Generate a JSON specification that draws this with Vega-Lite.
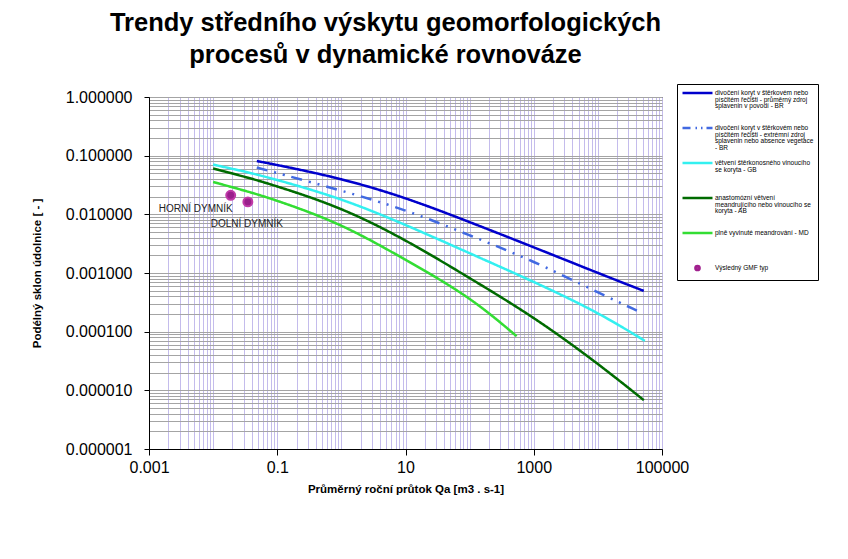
{
  "$schema": "https://vega.github.io/schema/vega-lite/v6.json",
  "autosize": {"type": "none"},
  "padding": {"left": 149, "top": 97, "right": 186, "bottom": 110},
  "width": 513,
  "height": 352,
  "background": "white",
  "title": {
    "text": ["Trendy středního výskytu geomorfologických", "procesů v dynamické rovnováze"],
    "font": "Liberation Sans",
    "fontSize": 25.5,
    "fontWeight": "bold",
    "color": "#000",
    "lineHeight": 32,
    "anchor": "middle",
    "dx": -20,
    "offset": 15
  },
  "config": {
    "view": {"stroke": "#000", "strokeWidth": 1},
    "font": "Liberation Sans"
  },
  "datasets": {
    "curves": [
      {"series": "BR1", "q": 0.048, "s": 0.081},
      {"series": "BR1", "q": 0.1, "s": 0.0695},
      {"series": "BR1", "q": 1, "s": 0.041},
      {"series": "BR1", "q": 10, "s": 0.0194},
      {"series": "BR1", "q": 100, "s": 0.0074},
      {"series": "BR1", "q": 1000, "s": 0.00275},
      {"series": "BR1", "q": 10000, "s": 0.001},
      {"series": "BR1", "q": 52000, "s": 0.000495},
      {"series": "BR2", "q": 0.048, "s": 0.0627},
      {"series": "BR2", "q": 0.1, "s": 0.0506},
      {"series": "BR2", "q": 1, "s": 0.0255},
      {"series": "BR2", "q": 10, "s": 0.0121},
      {"series": "BR2", "q": 100, "s": 0.00439},
      {"series": "BR2", "q": 1000, "s": 0.0016},
      {"series": "BR2", "q": 10000, "s": 0.000465},
      {"series": "BR2", "q": 45000, "s": 0.000217},
      {"series": "GB", "q": 0.01, "s": 0.0705},
      {"series": "GB", "q": 0.037, "s": 0.0515},
      {"series": "GB", "q": 0.1, "s": 0.0387},
      {"series": "GB", "q": 1, "s": 0.0187},
      {"series": "GB", "q": 10, "s": 0.00668},
      {"series": "GB", "q": 100, "s": 0.00217},
      {"series": "GB", "q": 1000, "s": 0.000713},
      {"series": "GB", "q": 10000, "s": 0.000215},
      {"series": "GB", "q": 54000, "s": 0.0000697},
      {"series": "AB", "q": 0.01, "s": 0.0603},
      {"series": "AB", "q": 0.037, "s": 0.0417},
      {"series": "AB", "q": 0.1, "s": 0.0301},
      {"series": "AB", "q": 1, "s": 0.0131},
      {"series": "AB", "q": 10, "s": 0.00372},
      {"series": "AB", "q": 100, "s": 0.00082},
      {"series": "AB", "q": 1000, "s": 0.000179},
      {"series": "AB", "q": 10000, "s": 0.0000288},
      {"series": "AB", "q": 52000, "s": 0.0000068},
      {"series": "MD", "q": 0.01, "s": 0.0356},
      {"series": "MD", "q": 0.037, "s": 0.0241},
      {"series": "MD", "q": 0.1, "s": 0.0172},
      {"series": "MD", "q": 1, "s": 0.00695},
      {"series": "MD", "q": 10, "s": 0.00169},
      {"series": "MD", "q": 100, "s": 0.000397},
      {"series": "MD", "q": 540, "s": 0.0000838}
    ],
    "sites": [
      {"name": "HORNÍ DYMNÍK", "q": 0.0188, "s": 0.0211},
      {"name": "DOLNÍ DYMNÍK", "q": 0.0348, "s": 0.0163}
    ]
  },
  "layer": [
    {
      "data": {"name": "curves"},
      "mark": {"type": "line", "strokeWidth": 2.5, "interpolate": "basis", "clip": true},
      "encoding": {
        "x": {
          "field": "q",
          "type": "quantitative",
          "scale": {"type": "log", "domain": [0.001, 100000], "nice": false},
          "axis": {
            "title": "Průměrný roční průtok Qa [m3 . s-1]",
            "titleFont": "Liberation Sans",
            "titleFontSize": 11.5,
            "titleFontWeight": "bold",
            "titleColor": "#000",
            "titlePadding": 8,
            "values": [0.001, 0.002, 0.003, 0.004, 0.005, 0.006, 0.007, 0.008, 0.009,
                       0.01, 0.02, 0.03, 0.04, 0.05, 0.06, 0.07, 0.08, 0.09,
                       0.1, 0.2, 0.3, 0.4, 0.5, 0.6, 0.7, 0.8, 0.9,
                       1, 2, 3, 4, 5, 6, 7, 8, 9,
                       10, 20, 30, 40, 50, 60, 70, 80, 90,
                       100, 200, 300, 400, 500, 600, 700, 800, 900,
                       1000, 2000, 3000, 4000, 5000, 6000, 7000, 8000, 9000,
                       10000, 20000, 30000, 40000, 50000, 60000, 70000, 80000, 90000, 100000],
            "format": "~g",
            "labelExpr": "indexof([0.001, 0.1, 10, 1000, 100000], datum.value) >= 0 ? datum.label : ''",
            "labelOverlap": false,
            "labelFlush": false,
            "labelFont": "Liberation Sans",
            "labelFontSize": 16,
            "labelColor": "#000",
            "labelPadding": 4,
            "grid": true,
            "gridColor": "#c4bcec",
            "gridWidth": 1,
            "domainColor": "#000",
            "tickSize": 6,
            "tickColor": {"condition": {"test": "indexof([0.001, 0.1, 10, 1000, 100000], datum.value) >= 0", "value": "#000"}, "value": "transparent"}
          }
        },
        "y": {
          "field": "s",
          "type": "quantitative",
          "scale": {"type": "log", "domain": [0.000001, 1], "nice": false},
          "axis": {
            "title": "Podélný sklon údolnice [ - ]",
            "titleFont": "Liberation Sans",
            "titleFontSize": 11.5,
            "titleFontWeight": "bold",
            "titleColor": "#000",
            "titlePadding": 23,
            "values": [0.000001, 0.000002, 0.000003, 0.000004, 0.000005, 0.000006, 0.000007, 0.000008, 0.000009,
                       0.00001, 0.00002, 0.00003, 0.00004, 0.00005, 0.00006, 0.00007, 0.00008, 0.00009,
                       0.0001, 0.0002, 0.0003, 0.0004, 0.0005, 0.0006, 0.0007, 0.0008, 0.0009,
                       0.001, 0.002, 0.003, 0.004, 0.005, 0.006, 0.007, 0.008, 0.009,
                       0.01, 0.02, 0.03, 0.04, 0.05, 0.06, 0.07, 0.08, 0.09,
                       0.1, 0.2, 0.3, 0.4, 0.5, 0.6, 0.7, 0.8, 0.9, 1],
            "format": ".6f",
            "labelExpr": "indexof([0.000001, 0.00001, 0.0001, 0.001, 0.01, 0.1, 1], datum.value) >= 0 ? datum.label : ''",
            "labelOverlap": false,
            "labelFlush": false,
            "labelFont": "Liberation Sans",
            "labelFontSize": 16,
            "labelColor": "#000",
            "labelPadding": 12,
            "grid": true,
            "gridColor": "#a4a4a4",
            "gridWidth": 1,
            "domainColor": "#000",
            "tickSize": 5,
            "tickColor": {"condition": {"test": "indexof([0.000001, 0.00001, 0.0001, 0.001, 0.01, 0.1, 1], datum.value) >= 0", "value": "#000"}, "value": "transparent"}
          }
        },
        "color": {
          "field": "series",
          "type": "nominal",
          "scale": {
            "domain": ["BR1", "BR2", "GB", "AB", "MD", "GMF"],
            "range": ["#0000cc", "#4169e1", "#33f0f0", "#006b00", "#33dd33", "#a0208e"]
          },
          "legend": {
            "title": null,
            "orient": "none",
            "legendX": 528,
            "legendY": -13,
            "direction": "vertical",
            "strokeColor": "#000",
            "fillColor": "#fff",
            "padding": 4,
            "cornerRadius": 0,
            "symbolType": "stroke",
            "symbolSize": 900,
            "symbolStrokeWidth": 2.5,
            "labelFont": "Liberation Sans",
            "labelFontSize": 6.5,
            "labelColor": "#000",
            "labelLimit": 200,
            "labelOffset": 1,
            "labelBaseline": "top",
            "rowPadding": 3,
            "gridAlign": "all",
            "labelExpr": "datum.value == 'BR1' ? ['divočení koryt v štěrkovém nebo', 'písčitém řečišti - průměrný zdroj', 'splavenin v povodí - BR'] : datum.value == 'BR2' ? ['divočení koryt v štěrkovém nebo', 'písčitém řečišti - extrémní zdroj', 'splavenin nebo absence vegetace', '- BR'] : datum.value == 'GB' ? ['větvení štěrkonosného vinoucího', 'se koryta - GB'] : datum.value == 'AB' ? ['anastomózní větvení', 'meandrujícího nebo vinoucího se', 'koryta - AB'] : datum.value == 'MD' ? 'plně vyvinuté meandrování - MD' : 'Výsledný GMF typ'",
            "encode": {
              "symbols": {
                "update": {
                  "y": {"value": 5},
                  "shape": {"signal": "datum.value === 'GMF' ? 'M0.14,0A0.14,0.14,0,1,1,-0.14,0A0.14,0.14,0,1,1,0.14,0Z' : 'stroke'"},
                  "fill": {"signal": "datum.value === 'GMF' ? '#b0309a' : 'transparent'"},
                  "stroke": {"signal": "datum.value === 'GMF' ? 'transparent' : scale('color', datum.value)"},
                  "strokeDash": {"signal": "datum.value === 'BR2' ? [8, 5, 1.5, 4, 1.5, 4] : []"}
                }
              },
              "labels": {
                "update": {
                  "y": {"value": 5},
                  "lineHeight": {"value": 6.7},
                  "dy": {"value": -3}
                }
              }
            }
          }
        },
        "strokeDash": {
          "field": "series",
          "type": "nominal",
          "scale": {
            "domain": ["BR1", "BR2", "GB", "AB", "MD"],
            "range": [[1, 0], [11, 7, 2, 7, 2, 7], [1, 0], [1, 0], [1, 0]]
          },
          "legend": null
        }
      }
    },
    {
      "data": {"name": "sites"},
      "mark": {"type": "point", "filled": true, "size": 80, "fill": "#9a1f8c", "stroke": "#c03aa8", "strokeWidth": 2, "opacity": 1},
      "encoding": {
        "x": {"field": "q", "type": "quantitative"},
        "y": {"field": "s", "type": "quantitative"}
      }
    },
    {
      "data": {"name": "sites"},
      "transform": [{"filter": "datum.name == 'HORNÍ DYMNÍK'"}],
      "mark": {"type": "text", "align": "right", "baseline": "alphabetic", "dx": 2, "dy": 17, "font": "Liberation Sans", "fontSize": 10, "color": "#222"},
      "encoding": {
        "x": {"field": "q", "type": "quantitative"},
        "y": {"field": "s", "type": "quantitative"},
        "text": {"field": "name"}
      }
    },
    {
      "data": {"name": "sites"},
      "transform": [{"filter": "datum.name == 'DOLNÍ DYMNÍK'"}],
      "mark": {"type": "text", "align": "center", "baseline": "alphabetic", "dx": -1, "dy": 25, "font": "Liberation Sans", "fontSize": 10, "color": "#222"},
      "encoding": {
        "x": {"field": "q", "type": "quantitative"},
        "y": {"field": "s", "type": "quantitative"},
        "text": {"field": "name"}
      }
    }
  ]
}
